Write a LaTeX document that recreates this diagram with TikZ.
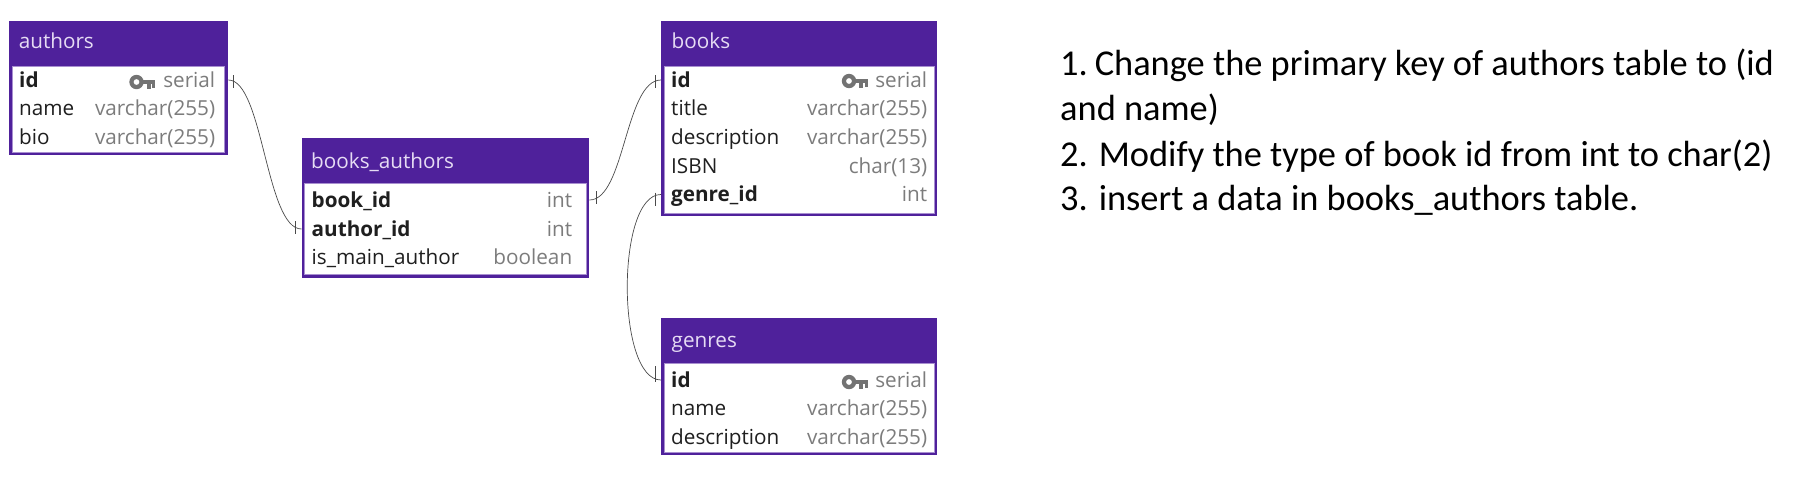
\documentclass[tikz,border=0pt]{standalone}
\usepackage{fontspec}
\setmainfont{Open Sans}
\newfontfamily\notefont{Carlito}
\definecolor{tablepurple}{HTML}{4F219B}
\definecolor{headtext}{HTML}{E6DCF4}
\definecolor{bodyline}{HTML}{A88FD0}
\definecolor{typegray}{HTML}{7C7C7C}
\definecolor{keygray}{HTML}{737373}
\definecolor{linkgray}{HTML}{4A4A4A}
\newcommand{\fieldrow}[3]{#2\hfill\textcolor{typegray}{#3}\hspace*{#1}}
\tikzset{
	tableframe/.style={rectangle,fill=tablepurple,inner sep=0pt},
	tablebody/.style={rectangle,fill=white,draw=bodyline,line width=0.8pt,inner sep=0pt},
	tablehead/.style={anchor=base west,inner sep=0pt,text=headtext,font=\fontsize{20.7}{24}\selectfont},
	fieldline/.style={anchor=west,inner xsep=10pt,inner ysep=0pt,text height=17pt,text depth=3pt,align=left,font=\fontsize{20.7}{24}\selectfont,text=black!88},
	linkline/.style={draw=linkgray,line width=0.7pt},
	keyicon/.pic={
		\fill[keygray,even odd rule] (7.5,0) circle (7.2pt) (7.5,0) circle (3pt);
		\fill[keygray] (13,-2.4) rectangle (26,2.2);
		\fill[keygray] (17.5,2) rectangle (21.5,7);
		\fill[keygray] (23,2) rectangle (26,5.5);
	}
}
\begin{document}
\begin{tikzpicture}[x=1pt,y=-1pt]
	\useasboundingbox (0,0) rectangle (1815,477);
	\node[tableframe,minimum width=219pt,minimum height=134pt] (authors) at (118.5,88) {};
	\node[tablebody,minimum width=212.5pt,minimum height=86pt] (authors-body) at (118.5,109.5) {};
	\node[tablehead] (authors-head) at (18.6,48) {authors};
	\node[fieldline,text width=199pt] (authors-id) at (9,80) {\fieldrow{3pt}{\textbf{id}}{serial}};
	\node[fieldline,text width=199pt] (authors-name) at (9,108.7) {\fieldrow{3pt}{name}{varchar(255)}};
	\node[fieldline,text width=199pt] (authors-bio) at (9,137.4) {\fieldrow{3pt}{bio}{varchar(255)}};
	\pic at (129,82) {keyicon};
	\node[tableframe,minimum width=287.5pt,minimum height=140pt] (ba) at (445.25,208) {};
	\node[tablebody,minimum width=281.5pt,minimum height=91.5pt] (ba-body) at (445.25,229) {};
	\node[tablehead] (ba-head) at (311,168) {books\_authors};
	\node[fieldline,text width=267.5pt] (ba-book) at (301.5,200) {\fieldrow{7pt}{\textbf{book\_id}}{int}};
	\node[fieldline,text width=267.5pt] (ba-author) at (301.5,229) {\fieldrow{7pt}{\textbf{author\_id}}{int}};
	\node[fieldline,text width=267.5pt] (ba-main) at (301.5,257.5) {\fieldrow{7pt}{is\_main\_author}{boolean}};
	\node[tableframe,minimum width=276pt,minimum height=195pt] (books) at (799,118.5) {};
	\node[tablebody,minimum width=270pt,minimum height=147pt] (books-body) at (799,139.5) {};
	\node[tablehead] (books-head) at (671.5,48) {books};
	\node[fieldline,text width=256pt] (books-id) at (661,80) {\fieldrow{0pt}{\textbf{id}}{serial}};
	\node[fieldline,text width=256pt] (books-title) at (661,108.7) {\fieldrow{0pt}{title}{varchar(255)}};
	\node[fieldline,text width=256pt] (books-desc) at (661,137.4) {\fieldrow{0pt}{description}{varchar(255)}};
	\node[fieldline,text width=256pt] (books-isbn) at (661,166) {\fieldrow{0pt}{ISBN}{char(13)}};
	\node[fieldline,text width=256pt] (books-genre) at (661,194.5) {\fieldrow{0pt}{\textbf{genre\_id}}{int}};
	\pic at (841.5,81) {keyicon};
	\node[tableframe,minimum width=276pt,minimum height=137.5pt] (genres) at (799,386.5) {};
	\node[tablebody,minimum width=270pt,minimum height=89pt] (genres-body) at (799,408) {};
	\node[tablehead] (genres-head) at (671.5,347.7) {genres};
	\node[fieldline,text width=256pt] (genres-id) at (661,380) {\fieldrow{0pt}{\textbf{id}}{serial}};
	\node[fieldline,text width=256pt] (genres-name) at (661,408.5) {\fieldrow{0pt}{name}{varchar(255)}};
	\node[fieldline,text width=256pt] (genres-desc) at (661,437) {\fieldrow{0pt}{description}{varchar(255)}};
	\pic at (841.5,382) {keyicon};
	\draw[linkline] (authors-id.east) .. controls (263,80) and (266,229) .. (ba-author.west);
	\draw[linkline] (ba-book.east) .. controls (625,200) and (625,80) .. (books-id.west);
	\draw[linkline] (books-genre.west) .. controls (616,194) and (616,380) .. (genres-id.west);
	\draw[linkline] ([xshift=5pt,yshift=5pt]authors-id.east) -- ++(0,13);
	\draw[linkline] ([xshift=-6pt,yshift=8pt]ba-author.west) -- ++(0,13);
	\draw[linkline] ([xshift=7pt,yshift=9pt]ba-book.east) -- ++(0,13);
	\draw[linkline] ([xshift=-6pt,yshift=5pt]books-id.west) -- ++(0,13);
	\draw[linkline] ([xshift=-6pt,yshift=2pt]books-genre.west) -- ++(0,13);
	\draw[linkline] ([xshift=-6pt,yshift=14pt]genres-id.west) -- ++(0,16);
	\node[anchor=north west,inner sep=0pt,align=left,font=\notefont\fontsize{36.4}{44.7}\selectfont] (notes) at (1060,48.5) {1.\hspace{-4pt} Change the primary key of authors table to (id\\and name)\\[1.5pt]2. Modify the type of book id from int to char(2)\\3. insert a data in books\_authors table.};
\end{tikzpicture}
\end{document}
